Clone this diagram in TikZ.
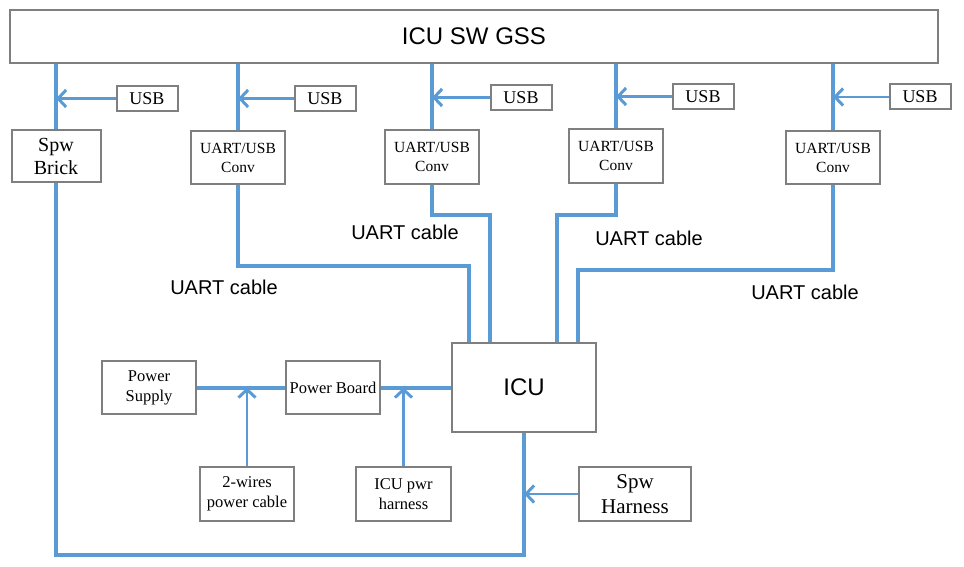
\documentclass[tikz,border=0pt]{standalone}
\usepackage{fontspec}
\setmainfont{Liberation Serif}
\setsansfont{Liberation Sans}
\usepackage{tikz}
\usetikzlibrary{positioning,arrows.meta}
\definecolor{wire}{HTML}{5B9BD5}
\definecolor{edge}{HTML}{7F7F7F}

\begin{document}
\begin{tikzpicture}[x=1pt,y=-1pt,
		box/.style={draw=edge,line width=2pt,fill=white,inner sep=1pt,align=center},
		cable/.style={draw=wire,line width=4pt},
		feed/.style={draw=wire,line width=2.8pt,-{Straight Barb[length=8pt,width=17pt,line width=3pt]}},
		lbl/.style={font=\sffamily\fontsize{20}{24}\selectfont}]
	
	\useasboundingbox (0,0) rectangle (964,567);
	
	% ground software on top
	\node[box,minimum width=928pt,minimum height=53pt,font=\sffamily\fontsize{24}{28}\selectfont] (gss) at (474,36.5) {ICU SW GSS};
	
	% usb inputs
	\node[box,minimum width=61pt,minimum height=25pt,font=\fontsize{18}{21}\selectfont] (usb1) at (147,98.5) {USB};
	\node[box,minimum width=61pt,minimum height=25pt,font=\fontsize{18}{21}\selectfont] (usb2) at (325,98.5) {USB};
	\node[box,minimum width=61pt,minimum height=25pt,font=\fontsize{18}{21}\selectfont] (usb3) at (521,97.5) {USB};
	\node[box,minimum width=61pt,minimum height=25pt,font=\fontsize{18}{21}\selectfont] (usb4) at (703,96.5) {USB};
	\node[box,minimum width=61pt,minimum height=25pt,font=\fontsize{18}{21}\selectfont] (usb5) at (920,97) {USB};
	
	% brick and converters
	\node[box,minimum width=89pt,minimum height=52pt,font=\fontsize{20}{23}\selectfont] (brick) at (56,156) {Spw\\Brick};
	\node[box,minimum width=94pt,minimum height=53pt,font=\fontsize{15.5}{19}\selectfont] (conv1) at (238,157.5) {UART/USB\\Conv};
	\node[box,minimum width=94pt,minimum height=53pt,font=\fontsize{15.5}{19}\selectfont] (conv2) at (432,157) {UART/USB\\Conv};
	\node[box,minimum width=94pt,minimum height=53pt,font=\fontsize{15.5}{19}\selectfont] (conv3) at (616,156) {UART/USB\\Conv};
	\node[box,minimum width=94pt,minimum height=53pt,font=\fontsize{15.5}{19}\selectfont] (conv4) at (833,157.5) {UART/USB\\Conv};
	
	% unit and power chain
	\node[box,minimum width=144pt,minimum height=89pt,font=\sffamily\fontsize{24}{28}\selectfont] (icu) at (524,387.5) {ICU};
	\node[box,minimum width=94pt,minimum height=53pt,font=\fontsize{16.5}{20}\selectfont] (supply) at (149,387.5) {Power\\Supply};
	\node[box,minimum width=94pt,minimum height=53pt,font=\fontsize{16.5}{20}\selectfont] (board) at (333,387.5) {Power Board};
	\node[box,minimum width=94pt,minimum height=54pt,font=\fontsize{16.5}{20}\selectfont] (wires) at (247,494) {2-wires\\power cable};
	\node[box,minimum width=95pt,minimum height=54pt,font=\fontsize{16.5}{20}\selectfont] (harn) at (403.5,494) {ICU pwr\\harness};
	\node[box,minimum width=112pt,minimum height=54pt,font=\fontsize{21}{25}\selectfont] (spwh) at (635,494) {Spw\\Harness};
	
	\coordinate (inA) at ([xshift=-55pt]icu.north);
	\coordinate (inB) at ([xshift=-34pt]icu.north);
	\coordinate (inC) at ([xshift=33pt]icu.north);
	\coordinate (inD) at ([xshift=54pt]icu.north);
	
	% drops from the GSS
	\draw[cable] (brick.north) -- (brick.north |- gss.south);
	\draw[cable] (conv1.north) -- (conv1.north |- gss.south);
	\draw[cable] (conv2.north) -- (conv2.north |- gss.south);
	\draw[cable] (conv3.north) -- (conv3.north |- gss.south);
	\draw[cable] (conv4.north) -- (conv4.north |- gss.south);
	
	\draw[feed] (usb1.west) -- (usb1.west -| brick.north);
	\draw[feed] (usb2.west) -- (usb2.west -| conv1.north);
	\draw[feed] (usb3.west) -- (usb3.west -| conv2.north);
	\draw[feed] (usb4.west) -- (usb4.west -| conv3.north);
	\draw[feed] (usb5.west) -- (usb5.west -| conv4.north);
	
	% uart cables
	\draw[cable] (conv1.south) -- ++(0,81) -| (inA);
	\draw[cable] (conv2.south) -- ++(0,30.5) -| (inB);
	\draw[cable] (conv3.south) -- ++(0,31.5) -| (inC);
	\draw[cable] (conv4.south) -- ++(0,85) -| (inD);
	
	\node[lbl] (uart1) at (224,287) {UART cable};
	\node[lbl] (uart2) at (405,232) {UART cable};
	\node[lbl] (uart3) at (649,238) {UART cable};
	\node[lbl] (uart4) at (805,292) {UART cable};
	
	% power
	\draw[cable] (supply.east) -- (board.west);
	\draw[cable] (board.east) -- (icu.west);
	\draw[feed] (wires.north) -- (wires.north |- supply.east);
	\draw[feed] (harn.north) -- (harn.north |- board.east);
	
	% spacewire loop
	\draw[cable] (icu.south) -- ++(0,122) -| (brick.south);
	\draw[feed] (spwh.west) -- (spwh.west -| icu.south);
	
\end{tikzpicture}
\end{document}
